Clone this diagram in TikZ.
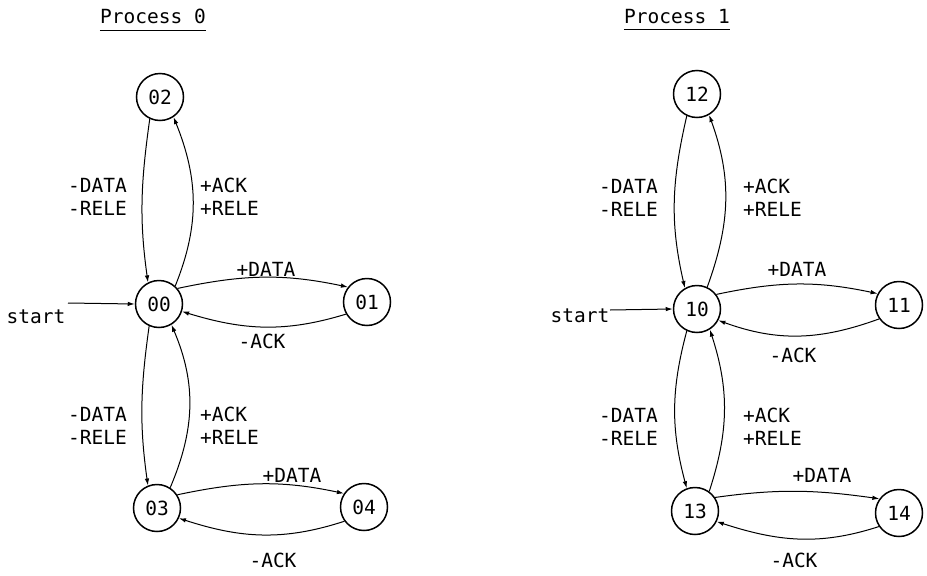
\documentclass[tikz,border=0pt]{standalone}
\usepackage{fontspec}
\setmonofont{DejaVu Sans Mono}
\usetikzlibrary{arrows.meta}
\newcommand{\labfont}{\ttfamily\fontsize{19.5}{23}\selectfont}
\tikzset{
  state/.style={circle, draw, line width=1.5pt, minimum size=47pt, inner sep=0pt, font=\labfont},
  lab/.style={inner sep=0pt, font=\labfont},
  title/.style={inner sep=0pt, font=\labfont},
  edge/.style={line width=1pt, -{Latex[length=7pt,width=4.5pt]}},
  uline/.style={line width=1pt}
}
\begin{document}
\begin{tikzpicture}[x=1pt,y=1pt]
\useasboundingbox (0,0) rectangle (927,-576);
\fill[white] (0,0) rectangle (927,-576);

% ---------- Process 0 ----------
\node[title] (t0) at (153,-16.5) {Process 0};
\draw[uline] ([yshift=-6pt]t0.south west) -- ([yshift=-6pt]t0.south east);

\node[state] (s02) at (160,-97) {02};
\node[state] (s00) at (159,-304) {00};
\node[state] (s01) at (367,-302) {01};
\node[state] (s03) at (157,-508) {03};
\node[state] (s04) at (364,-507) {04};

\node[lab] (st0) at (36,-317) {start};
\coordinate (st0a) at (68,-303);
\draw[edge] (st0a) -- (s00.west);

\draw[edge] (s02.-115) to[out=-98,in=98] (s00.117);
\draw[edge] (s00.48) to[out=68,in=-68] (s02.-56);
\draw[edge] (s00.40) to[out=12,in=168] (s01.142);
\draw[edge] (s01.210) to[out=197,in=-17] (s00.-18);
\draw[edge] (s00.-114) to[out=-98,in=98] (s03.112);
\draw[edge] (s03.57) to[out=67,in=-67] (s00.-59);
\draw[edge] (s03.33) to[out=12,in=168] (s04.146);
\draw[edge] (s04.216) to[out=198,in=-18] (s03.-25);

\node[lab, anchor=east, align=right] (a1) at (127,-196.5) {-DATA\\-RELE};
\node[lab, anchor=west, align=left] (a2) at (200,-196.5) {+ACK\\+RELE};
\node[lab] (a3) at (266,-269.5) {+DATA};
\node[lab] (a4) at (262,-341) {-ACK};
\node[lab, anchor=east, align=right] (a5) at (127,-426) {-DATA\\-RELE};
\node[lab, anchor=west, align=left] (a6) at (200,-426) {+ACK\\+RELE};
\node[lab] (a7) at (292,-475) {+DATA};
\node[lab] (a8) at (273,-560) {-ACK};

% ---------- Process 1 ----------
\node[title] (t1) at (677,-16.5) {Process 1};
\draw[uline] ([yshift=-6pt]t1.south west) -- ([yshift=-6pt]t1.south east);

\node[state] (s12) at (697,-94) {12};
\node[state] (s10) at (697,-309) {10};
\node[state] (s11) at (899,-305) {11};
\node[state] (s13) at (695,-511) {13};
\node[state] (s14) at (899,-513) {14};

\node[lab] (st1) at (580,-316) {start};
\coordinate (st1a) at (610,-310);
\draw[edge] (st1a) -- (s10.west);

\draw[edge] (s12.-115) to[out=-103,in=103] (s10.120);
\draw[edge] (s10.65) to[out=70,in=-70] (s12.-60);
\draw[edge] (s10.37) to[out=12,in=168] (s11.152);
\draw[edge] (s11.215) to[out=200,in=-20] (s10.-28);
\draw[edge] (s10.-115) to[out=-105,in=105] (s13.110);
\draw[edge] (s13.54) to[out=72,in=-72] (s10.-58);
\draw[edge] (s13.34) to[out=8,in=172] (s14.144);
\draw[edge] (s14.214) to[out=198,in=-18] (s13.-26);

\node[lab, anchor=east, align=right] (b1) at (658,-197.5) {-DATA\\-RELE};
\node[lab, anchor=west, align=left] (b2) at (743,-197.5) {+ACK\\+RELE};
\node[lab] (b3) at (797,-269.5) {+DATA};
\node[lab] (b4) at (793,-355) {-ACK};
\node[lab, anchor=east, align=right] (b5) at (658,-427) {-DATA\\-RELE};
\node[lab, anchor=west, align=left] (b6) at (743,-427) {+ACK\\+RELE};
\node[lab] (b7) at (822,-475) {+DATA};
\node[lab] (b8) at (794,-560) {-ACK};
\end{tikzpicture}
\end{document}
